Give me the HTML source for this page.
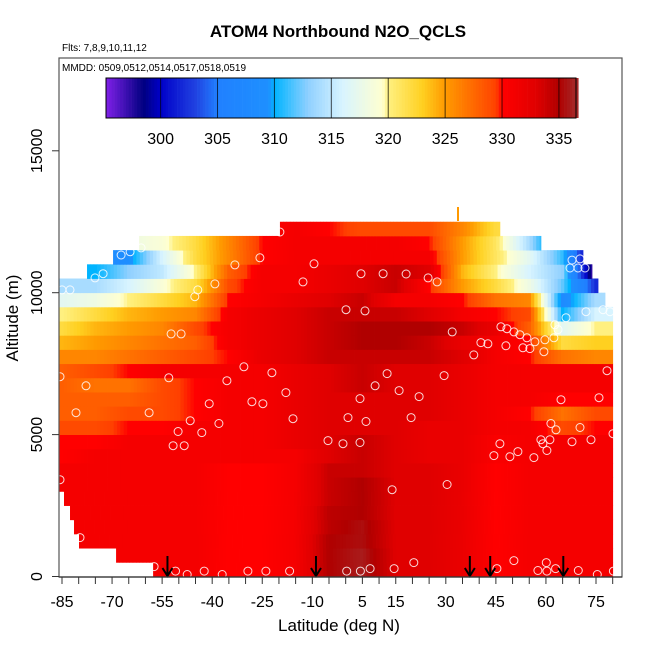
<!DOCTYPE html>
<html><head><meta charset="utf-8"><style>
body{margin:0;background:#fff;}
svg{display:block;font-family:"Liberation Sans",Arial,sans-serif;}
</style></head><body>
<svg id="chart" width="650" height="650" viewBox="0 0 650 650">
<text x="338" y="37" text-anchor="middle" font-size="17" font-weight="bold">ATOM4 Northbound N2O_QCLS</text>
<text x="62" y="51" font-size="10">Flts: 7,8,9,10,11,12</text>
<g id="heat"></g>
<g id="pts"></g>
<g id="arrows"></g>
<line x1="458" y1="207" x2="458" y2="221" stroke="#ff9900" stroke-width="2"/>
<rect x="59" y="58" width="563" height="519" fill="none" stroke="#555" stroke-width="1.2"/>
<text x="62" y="71" font-size="10">MMDD: 0509,0512,0514,0517,0518,0519</text>
<g id="cbar"></g>
<g id="xaxis"></g>
<g id="yaxis"></g>
<text x="339" y="631" text-anchor="middle" font-size="17">Latitude (deg N)</text>
<text transform="translate(18,318) rotate(-90)" text-anchor="middle" font-size="17">Altitude (m)</text>
</svg>
<script>
const nodeLats=[-85,-75,-65,-55,-45,-35,-25,-15,-5,5,15,25,35,45,55,65,75];
const rowLatStart=[-57.7,-68.8,-79.9,-81.4,-82.6,-84.4,-86.5,-86.5,-86.5,-86.5,-86.5,-86.5,-86.5,-86.5,-86.5,-86.5,-86.5,-86.5,-86.5,-86.5,-86.5,-77.5,-69.7,-61.9,-19.7];
const rowLatEnd=[80,80,80,80,80,80,80,80,80,80,80,80,80,80,80,80,80,80,80,77.7,75.6,73.8,71.1,58.5,46.2];
const rowValues=[
[331,331,331,331,331,330,330,331,335,336,333,333,332,330,331,331,331],
[331,331,331,331,331,330,330,331,335,336,333,333,332,330,331,331,331],
[331,331,331,331,331,330,330,331,335,335.5,333,333,332,330,331,331,331],
[331,331,331,331,331,330,330,331,334.5,335.5,333,333,332,330,331,331,331],
[331,331,331,331,331,330,330,331,334.5,335,333,333,332,330,331,331,331],
[331,331,331,331,331,330,330,331,334,335,333,333,332,330,331,331,331],
[331,331,331,331,331,330,330,331,334,335,333,333,332,330,331,331,331],
[331,331,331,331,331,330,330,331,334,334,333,333,332,330,331,331,331],
[330,331,331,331,331,331,331,331,333,334,333,332,332,330.5,331,331,331],
[330,330,331,331,331,331,331,332,333,334,333,332,332,330.5,331,331,331],
[329,329,330,330,331,331,331,332,333,333,333,332,332,331,331,329,330],
[328,328,329,329,330,331,331,332,333,333,333,333,332,331,330,327,329],
[328,328,328,329,330,331,331,332,333,333,333,333,332,331,331,330,330],
[328,327,327,329,330,331,331,332,333,334,333,333,332,331,331,331,331],
[328,329,330,331,331,331,331,332,333,334,333,333,332,331,331,331,331],
[326,326,327,328,329,330,332,333,334,334,334,334,333,331,330,327,326],
[324,325,326,327,328,331,332,333,334,335,335,334,332,331,330,322,323],
[322,324,325,326,329,331,332,333,334,335,335,335,334,332,328,317,320],
[320,322,324,325,326,331,332,333,334,334,334,333,331,330,329,310,316],
[317,318,320,322,324,330,331,332,333,334,331,331,330,327,326,308,314],
[314,314,316,319,322,329,331,331,332,333,334,330,325,322,318,312,302],
[310,310,313,315,320,328,331,331,332,333,334,333,324,320,316,313,295],
[308,308,309,316,322,326,330,331,331,331,331,331,325,321,317,311,295],
[318,318,318,319,322,326,330,331,331,331,331,330,325,321,314,305,305],
[330,330,330,330,330,330,330,331,330,329,329,329,326,322,322,322,322]
];
const ptLat=[-19.7,-67.3,-64.6,-61.3,-33.2,-25.7,-9.5,4.6,11.2,18.1,24.7,27.4,-75.1,-72.7,-39.2,-12.8,-82.6,-85,-44.3,-45.2,0.1,5.8,67.8,70.2,67.2,69.6,71.7,66,72,77.1,79.2,62.7,63.6,-52.3,-49.3,31.9,46.5,48.3,50.4,52.2,54.3,56.7,59.7,62.4,40.5,42.6,48,53.1,55.2,38.4,59.4,-85.6,-30.5,-22.1,12.4,29.5,78.3,-77.8,-53,-35.6,8.8,16,-17.9,4.3,22,64.5,75.9,-28.1,-24.8,-40.9,-80.8,-58.9,-15.8,0.7,6.1,19.6,-46.6,-38,-50.2,-43.1,61.5,63,70.2,80.1,-51.7,-48.4,-5.3,-0.8,4.3,46.2,58.5,59.1,61.2,60.3,67.8,73.5,44.4,49.2,51.6,56.4,-85.6,13.9,30.4,-79.6,-57.4,-51,-47.5,-42.4,-37,-29.3,-23.9,-16.8,0.3,4.4,7.3,14.5,20.4,45.3,50.4,57.6,60.1,60.3,62.9,69.7,75.4,80.2];
const ptAlt=[12140,11330,11440,11580,10980,11230,11020,10670,10670,10660,10520,10380,10520,10670,10310,10380,10100,10100,10100,9860,9400,9360,11150,11190,10870,10870,10870,9120,9330,9400,9330,8870,8700,8550,8550,8620,8800,8730,8620,8520,8410,8270,8340,8410,8240,8200,8130,8060,8030,7810,7920,7040,7390,7180,7150,7080,7250,6720,7000,6900,6720,6550,6480,6270,6340,6230,6300,6160,6090,6090,5770,5770,5560,5600,5460,5600,5490,5390,5110,5070,5390,5170,5250,5030,4610,4610,4790,4680,4720,4680,4820,4680,4820,4440,4750,4820,4260,4220,4400,4190,3410,3060,3240,1370,350,190,70,190,70,190,190,190,190,190,280,280,490,280,560,210,490,190,280,210,70,190];
const arrowLats=[-53.4,-8.9,37.2,43.3,65.2];
const xTicks=[-85,-70,-55,-40,-25,-10,5,15,30,45,60,75];
const yTicks=[0,5000,10000,15000];
const cbTicks=[300,305,310,315,320,325,330,335];

const NS='http://www.w3.org/2000/svg';
const X0=62,XS=534/160,Y0=576.5,YS=0.02838;
const xS=l=>X0+(l+85)*XS;
const yS=a=>Y0-a*YS;
const CB0=106,CB1=576,CBV0=295.2,CBV1=336.5;
const cbX=v=>CB0+(v-CBV0)*(CB1-CB0)/(CBV1-CBV0);
const stops=[[295.2,[128,32,232]],[298.5,[0,0,128]],[300,[0,0,200]],[303,[32,64,224]],[305,[32,128,255]],[309.5,[30,144,255]],[310,[0,180,255]],[313,[144,208,255]],[316,[216,244,255]],[319.5,[255,255,208]],[320,[255,240,128]],[323,[255,208,32]],[325,[255,154,0]],[329.5,[255,64,0]],[330,[255,0,0]],[333,[224,0,0]],[335,[176,0,0]],[336.5,[165,42,42]]];
function col(v){
  if(v<=stops[0][0])return 'rgb('+stops[0][1]+')';
  for(let i=1;i<stops.length;i++){if(v<=stops[i][0]){const a=stops[i-1],b=stops[i],t=(v-a[0])/(b[0]-a[0]);return 'rgb('+a[1].map((c,k)=>Math.round(c+(b[1][k]-c)*t)).join(',')+')';}}
  return 'rgb('+stops[stops.length-1][1]+')';
}
function mk(tag,attrs,parent){const e=document.createElementNS(NS,tag);for(const k in attrs)e.setAttribute(k,attrs[k]);parent.appendChild(e);return e;}
function interp(row,lat){
  if(lat<=nodeLats[0])return row[0];
  for(let i=1;i<nodeLats.length;i++){if(lat<=nodeLats[i]){const t=(lat-nodeLats[i-1])/(nodeLats[i]-nodeLats[i-1]);return row[i-1]+(row[i]-row[i-1])*t;}}
  return row[row.length-1];
}
const heat=document.getElementById('heat');
rowValues.forEach((row,r)=>{
  const y1=yS((r+1)*500),y0=yS(r*500);
  const ls=rowLatStart[r],le=rowLatEnd[r];
  for(let l=ls;l<le;l+=1){
    const l2=Math.min(l+1,le);
    const xa=Math.max(59,xS(l)),xb=xS(l2);
    if(xb<=xa)continue;
    const e=mk('rect',{x:xa.toFixed(2),y:y1.toFixed(2),width:(xb-xa+0.4).toFixed(2),height:(y0-y1+0.4).toFixed(2),fill:col(interp(row,(l+l2)/2))},heat);
    
    
  }
});
const pts=document.getElementById('pts');
ptLat.forEach((l,i)=>{
  const c=mk('circle',{cx:xS(l).toFixed(1),cy:yS(ptAlt[i]).toFixed(1),r:4,fill:'none',stroke:'#fff','stroke-opacity':0.85,'stroke-width':1},pts);
  
  
});
const ar=document.getElementById('arrows');
arrowLats.forEach(l=>{
  const x=xS(l);
  const g=mk('g',{},ar);
  
  
  mk('line',{x1:x,y1:556,x2:x,y2:575,stroke:'#000','stroke-width':2},g);
  mk('path',{d:`M${x-5},${568}L${x},${576}L${x+5},${568}`,fill:'none',stroke:'#000','stroke-width':2},g);
});
const cb=document.getElementById('cbar');
for(let v=CBV0;v<CBV1;v+=0.25){
  const e=mk('rect',{x:cbX(v).toFixed(2),y:78,width:((CB1-CB0)/(CBV1-CBV0)*0.25+0.3).toFixed(2),height:40,fill:col(v+0.125)},cb);
  
  
}
mk('rect',{x:CB0,y:78,width:CB1-CB0,height:40,fill:'none',stroke:'#000','stroke-width':1},cb);
cbTicks.forEach(v=>{
  const x=cbX(v);
  mk('line',{x1:x,y1:78,x2:x,y2:118,stroke:'#000','stroke-opacity':0.7,'stroke-width':1},cb);
  const t=mk('text',{x:x,y:144,'text-anchor':'middle','font-size':16},cb);
  t.textContent=v;
  
  
});
const xa=document.getElementById('xaxis');
for(let l=-85;l<=80;l+=5){const x=xS(l);mk('line',{x1:x,y1:577,x2:x,y2:584,stroke:'#333','stroke-width':1},xa);}
mk('line',{x1:59,y1:577,x2:622,y2:577,stroke:'#333','stroke-width':1.2},xa);
xTicks.forEach(l=>{
  const t=mk('text',{x:xS(l),y:607,'text-anchor':'middle','font-size':16},xa);
  t.textContent=l;
  
  
});
const ya=document.getElementById('yaxis');
yTicks.forEach(a=>{
  const y=yS(a);
  mk('line',{x1:52,y1:y,x2:59,y2:y,stroke:'#333','stroke-width':1},ya);
  const t=mk('text',{transform:`translate(42,${y}) rotate(-90)`,'text-anchor':'middle','font-size':16},ya);
  t.textContent=a;
  
  
});
</script>
</body></html>
